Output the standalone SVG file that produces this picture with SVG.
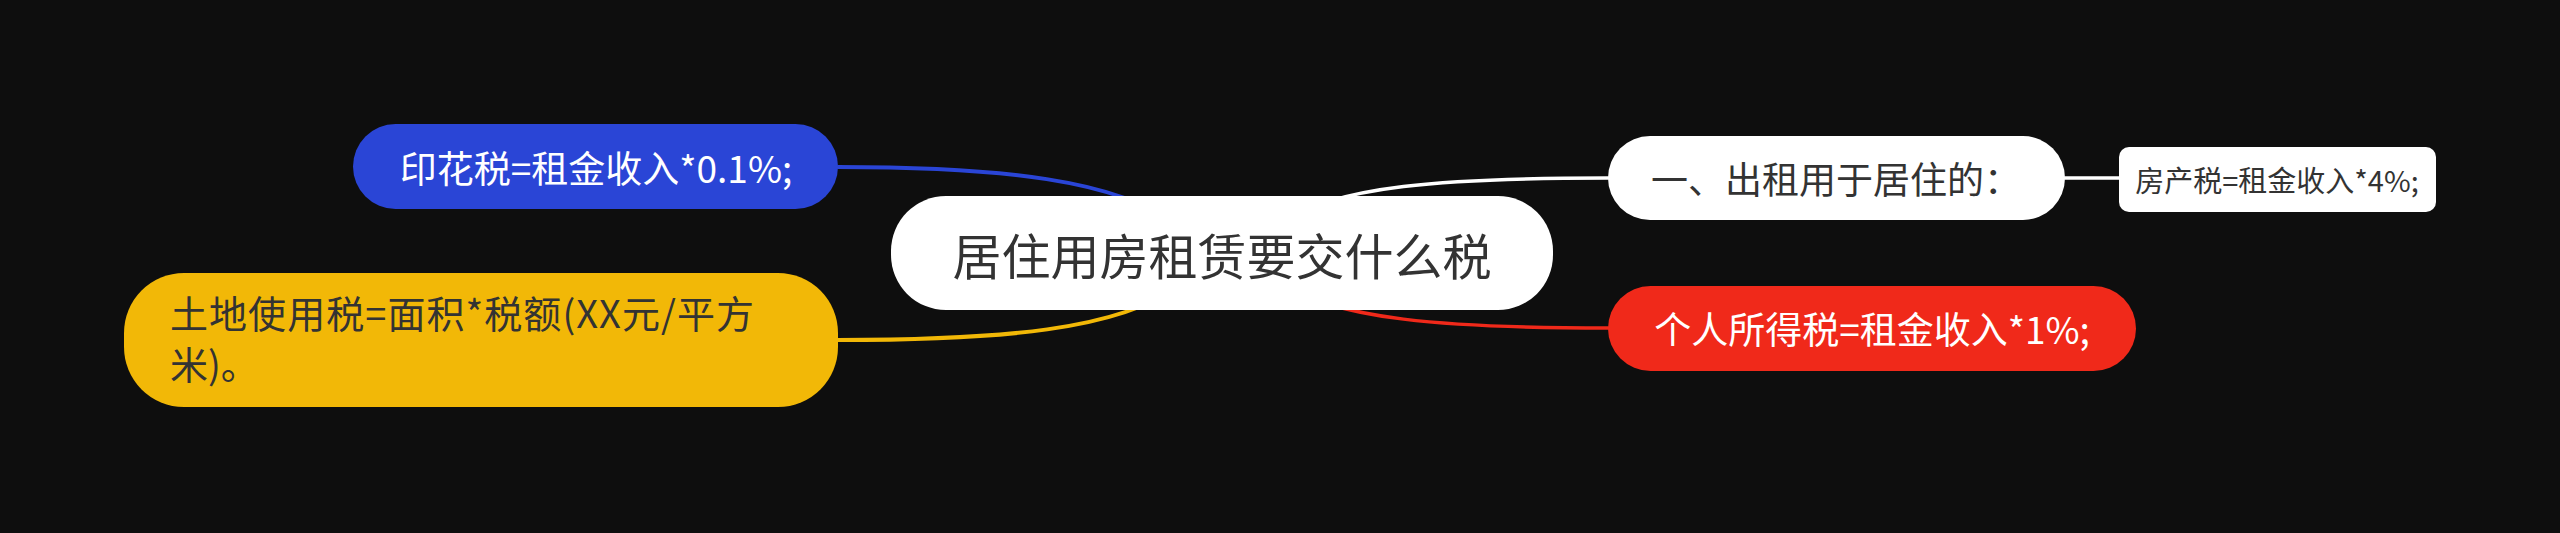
<svg xmlns="http://www.w3.org/2000/svg" width="2560" height="533" viewBox="0 0 2560 533">
<style>
.t{font-family:"Noto Sans CJK SC","Noto Sans",sans-serif;dominant-baseline:central}
.c{fill:none;stroke-linecap:round}
</style>
<rect width="2560" height="533" fill="#0e0e0e"/>
<g id="connectors">
<path class="c" d="M1175 225 C1120 180 1000 167 838 167" stroke="#2a45d6" stroke-width="4"/>
<path class="c" d="M1180 285 C1120 330 1000 340 838 340" stroke="#f2b807" stroke-width="4"/>
<path class="c" d="M1280 225 C1330 185 1450 178 1608 178" stroke="#ffffff" stroke-width="3.5"/>
<path class="c" d="M1280 281 C1330 320 1450 328 1608 328" stroke="#f0291a" stroke-width="3.5"/>
<path class="c" d="M2065 178 L2119 178" stroke="#ffffff" stroke-width="3.5"/>
</g>
<g id="root">
<rect x="891" y="196" width="662" height="114" rx="55" fill="#ffffff"/>
<text class="t" x="1222" y="253" font-size="49" fill="#333333" text-anchor="middle">居住用房租赁要交什么税</text>
</g>
<g id="node-yinhua">
<rect x="353" y="124" width="485" height="85" rx="42.5" fill="#2a45d6"/>
<text class="t" x="596" y="167" font-size="37" fill="#ffffff" text-anchor="middle">印花税=租金收入*0.1%;</text>
</g>
<g id="node-tudi">
<rect x="124" y="273" width="714" height="134" rx="60" fill="#f2b807"/>
<text class="t" x="170" y="311" font-size="38" fill="#333333" textLength="584" lengthAdjust="spacing">土地使用税=面积*税额(XX元/平方</text>
<text class="t" x="170" y="362" font-size="38" fill="#333333">米)。</text>
</g>
<g id="node-chuzu">
<rect x="1608" y="136" width="457" height="84" rx="42" fill="#ffffff"/>
<text class="t" x="1836" y="178" font-size="37" fill="#333333" text-anchor="middle">一、出租用于居住的：</text>
</g>
<g id="node-fangchan">
<rect x="2119" y="147" width="317" height="65" rx="10" fill="#ffffff"/>
<text class="t" x="2277" y="179" font-size="29" fill="#333333" text-anchor="middle">房产税=租金收入*4%;</text>
</g>
<g id="node-geren">
<rect x="1608" y="286" width="528" height="85" rx="42.5" fill="#f0291a"/>
<text class="t" x="1872" y="328" font-size="37" fill="#ffffff" text-anchor="middle">个人所得税=租金收入*1%;</text>
</g>
</svg>
